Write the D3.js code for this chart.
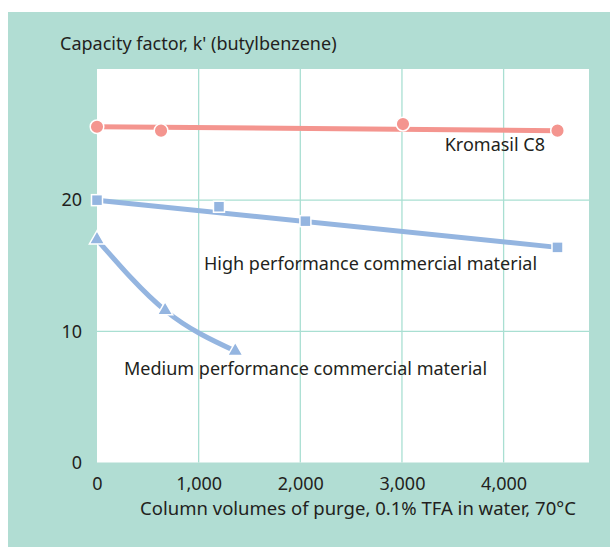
<!DOCTYPE html>
<html><head><meta charset="utf-8">
<script src="https://cdn.jsdelivr.net/npm/d3@7"></script>
<style>
html,body{margin:0;padding:0;background:#fff;}
svg{display:block;}
text{font-family:"Noto Sans",sans-serif;fill:#231f20;}
</style></head>
<body>
<svg id="chart" width="610" height="547"></svg>
<script>
// Data
const xTicks = [0, 1000, 2000, 3000, 4000];
const yTicks = [0, 10, 20];
const yGrid = [10, 20];
const kromasilX = [0, 630, 3010, 4530];
const kromasilY = [25.6, 25.3, 25.8, 25.3];
const kromasilFitY = [25.6, 25.3];
const highX = [0, 1200, 2050, 4530];
const highY = [20.0, 19.5, 18.4, 16.4];
const highFitY = [20.0, 16.4];
const mediumX = [0, 670, 1360];
const mediumY = [17.0, 11.6, 8.5];
const labels = ["Kromasil C8", "High performance commercial material", "Medium performance commercial material"];

const svg = d3.select("#chart");
const red = "#f4958f", blue = "#94b5e0", mint = "#b1ddd3", grid = "#a9dfd2";
const fs = 18;

svg.append("rect").attr("x",8).attr("y",12).attr("width",602).attr("height",535).attr("fill",mint);

const x = d3.scaleLinear().domain([0, 4840]).range([97, 589]);
const y = d3.scaleLinear().domain([0, 30]).range([462.5, 69]);

svg.append("rect").attr("x",x(0)).attr("y",y(30)).attr("width",x(4840)-x(0)).attr("height",y(0)-y(30)).attr("fill","#fff");

// grid
svg.append("g").selectAll("line").data(xTicks.filter(d=>d>0)).join("line")
  .attr("x1",d=>x(d)).attr("x2",d=>x(d)).attr("y1",y(30)).attr("y2",y(0))
  .attr("stroke",grid).attr("stroke-width",1.3);
svg.append("g").selectAll("line").data(yGrid).join("line")
  .attr("x1",x(0)).attr("x2",x(4840)).attr("y1",d=>y(d)).attr("y2",d=>y(d))
  .attr("stroke",grid).attr("stroke-width",1.3);

// axes (labels only)
const xAxis = d3.axisBottom(x).tickValues(xTicks).tickSize(0).tickPadding(7).tickFormat(d3.format(","));
const gx = svg.append("g").attr("transform",`translate(0,${y(0)+8})`).call(xAxis);
gx.select(".domain").remove();
gx.selectAll("text").attr("font-size",fs).attr("font-family","Noto Sans").attr("fill","#231f20");
const yAxis = d3.axisLeft(y).tickValues(yTicks).tickSize(0).tickPadding(15);
const gy = svg.append("g").attr("transform",`translate(${x(0)},0)`).call(yAxis);
gy.select(".domain").remove();
gy.selectAll("text").attr("font-size",fs).attr("font-family","Noto Sans").attr("fill","#231f20");

// lines
const lineGen = d3.line().x(d=>x(d[0])).y(d=>y(d[1]));
const kFit = [[kromasilX[0], kromasilFitY[0]], [kromasilX[kromasilX.length-1], kromasilFitY[1]]];
const hFit = [[highX[0], highFitY[0]], [highX[highX.length-1], highFitY[1]]];
svg.append("path").attr("d",lineGen(kFit)).attr("stroke",red).attr("stroke-width",5).attr("fill","none");
svg.append("path").attr("d",lineGen(hFit)).attr("stroke",blue).attr("stroke-width",5).attr("fill","none");
const curveGen = d3.line().x(d=>x(d[0])).y(d=>y(d[1])).curve(d3.curveMonotoneX);
svg.append("path").attr("d",curveGen(mediumX.map((v,i)=>[v,mediumY[i]]))).attr("stroke",blue).attr("stroke-width",5).attr("fill","none");

// markers
svg.append("g").selectAll("circle").data(kromasilX.map((v,i)=>[v,kromasilY[i]])).join("circle")
  .attr("cx",d=>x(d[0])).attr("cy",d=>y(d[1])).attr("r",6.8)
  .attr("fill",red).attr("stroke","#fff").attr("stroke-width",1.5);
svg.append("g").selectAll("rect").data(highX.map((v,i)=>[v,highY[i]])).join("rect")
  .attr("x",d=>x(d[0])-5.5).attr("y",d=>y(d[1])-5.5).attr("width",11).attr("height",11)
  .attr("fill",blue).attr("stroke","#fff").attr("stroke-width",1.5);
const tri = d3.symbol().type(d3.symbolTriangle).size(100);
svg.append("g").selectAll("path").data(mediumX.map((v,i)=>[v,mediumY[i]])).join("path")
  .attr("d",tri).attr("transform",d=>`translate(${x(d[0])},${y(d[1])})`)
  .attr("fill",blue).attr("stroke","#fff").attr("stroke-width",1.5);

// texts
svg.append("text").attr("x",60).attr("y",50).attr("font-size",fs).text("Capacity factor, k' (butylbenzene)");
svg.append("text").attr("x",358).attr("y",515).attr("font-size",18.5).attr("text-anchor","middle").text("Column volumes of purge, 0.1% TFA in water, 70°C");
svg.append("text").attr("x",545).attr("y",151).attr("font-size",fs).attr("text-anchor","end").text(labels[0]);
svg.append("text").attr("x",204).attr("y",270).attr("font-size",fs).text(labels[1]);
svg.append("text").attr("x",124).attr("y",375).attr("font-size",fs).text(labels[2]);
</script>
</body></html>
